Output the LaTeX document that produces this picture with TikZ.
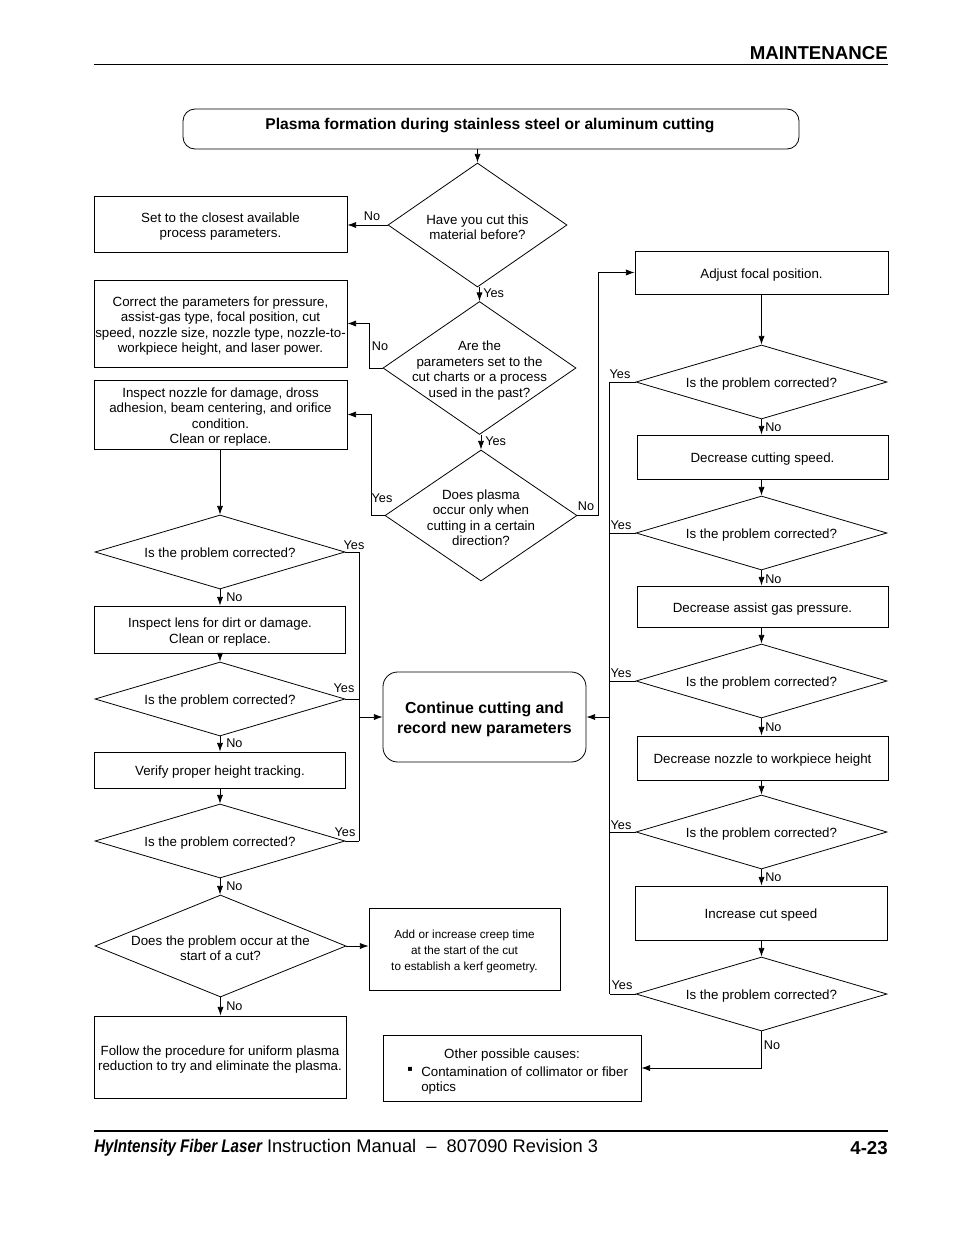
\documentclass[tikz,border=0pt]{standalone}
\usepackage{fontspec}
\setmainfont{Liberation Sans}
\newfontfamily\condfont[FakeStretch=0.83]{Liberation Sans}
\newfontfamily\symfont{DejaVu Sans}
\usetikzlibrary{shapes.geometric,arrows.meta}
\begin{document}
\begin{tikzpicture}[x=0.75pt,y=-0.75pt,
 box/.style={draw,line width=0.6pt,inner sep=0pt},
 dia/.style={draw,diamond,line width=0.6pt,inner sep=0pt},
 txt/.style={inner sep=0pt,align=center,yshift=-1.8pt,font=\fontsize{10}{11.6}\selectfont},
 lab/.style={inner sep=0pt,font=\fontsize{9.5}{11}\selectfont},
 arr/.style={line width=0.6pt,-{Latex[length=6.5pt,width=4.6pt]}},
 ln/.style={line width=0.6pt}]
\useasboundingbox (0,0) rectangle (954,1235);

% header / footer
\node[anchor=east,inner sep=0pt,font=\fontsize{14}{16}\selectfont\bfseries] (hdr) at (888,53) {MAINTENANCE};
\draw[line width=0.6pt] (94,64) -- (888,64);
\draw[line width=1.3pt] (94,1131) -- (888,1131);
\node[anchor=west,inner sep=0pt,font=\fontsize{13.7}{16}\selectfont] (foot) at (94,1148) {{\condfont\bfseries\itshape HyIntensity Fiber Laser} Instruction Manual\ \ –\ \ 807090 Revision 3};
\node[anchor=east,inner sep=0pt,font=\fontsize{14}{16}\selectfont\bfseries] (pg) at (888,1148) {4-23};

% top
\node[box,rounded corners=9pt,minimum width=462pt,minimum height=30pt] (top) at (491,129) {};
\node[inner sep=0pt,font=\fontsize{11.7}{14}\selectfont\bfseries] (toptxt) at (490,125) {Plasma formation during stainless steel or aluminum cutting};

% central decisions
\node[dia,minimum width=134.25pt,minimum height=93pt] (d1) at (477.5,225) {};
\node[txt] (t1) at (d1) {Have you cut this\\material before?};
\node[dia,minimum width=144.75pt,minimum height=99.75pt] (d2) at (479.5,368) {};
\node[txt] (t2) at (d2) {Are the\\parameters set to the\\cut charts or a process\\used in the past?};
\node[dia,minimum width=144pt,minimum height=98.25pt] (d3) at (481,515.5) {};
\node[txt] (t3) at (d3) {Does plasma\\occur only when\\cutting in a certain\\direction?};

\node[box,minimum width=189.75pt,minimum height=42pt] (b1) at (220.5,224) {};
\node[txt] (bt1) at (b1) {Set to the closest available\\process parameters.};
\node[box,minimum width=189.75pt,minimum height=65.25pt] (b2) at (220.5,323.5) {};
\node[txt] (bt2) at (b2) {Correct the parameters for pressure,\\assist-gas type, focal position, cut\\speed, nozzle size, nozzle type, nozzle-to-\\workpiece height, and laser power.};
\node[box,minimum width=189.75pt,minimum height=51.75pt] (b3) at (220.5,414.5) {};
\node[txt] (bt3) at (b3) {Inspect nozzle for damage, dross\\adhesion, beam centering, and orifice\\condition.\\Clean or replace.};

\draw[arr] (top.south -| d1.north) -- (d1.north);
\draw[arr] (d1.west) -- (d1.west -| b1.east);
\node[lab] (n1) at (372,216) {No};
\draw[arr] (d2.north |- d1.south) -- (d2.north);
\node[lab,anchor=west] (y1) at (483,293) {Yes};
\draw[arr] (d2.west) -- ++(-13,0) |- (b2.east);
\node[lab] (n2) at (380,346) {No};
\draw[arr] (d3.north |- d2.south) -- (d3.north);
\node[lab,anchor=west] (y2) at (485,441) {Yes};
\draw[arr] (d3.west) -- ++(-13,0) |- (b3.east);
\node[lab] (y3) at (382,498) {Yes};

% right column
\node[box,minimum width=189.75pt,minimum height=32.25pt] (r1) at (761.5,272.5) {};
\node[txt] (rb1) at (r1) {Adjust focal position.};
\draw[arr] (d3.east) -- ++(21,0) |- (r1.west);
\node[lab] (n3) at (586,506) {No};

\node[dia,minimum width=188.25pt,minimum height=55.5pt] (rd1) at (761.5,382) {};
\node[txt] (rt1) at (rd1) {Is the problem corrected?};
\node[box,minimum width=188.25pt,minimum height=33pt] (r2) at (762.5,457) {};
\node[txt] (rb2) at (r2) {Decrease cutting speed.};
\node[dia,minimum width=188.25pt,minimum height=55.5pt] (rd2) at (761.5,533) {};
\node[txt] (rt2) at (rd2) {Is the problem corrected?};
\node[box,minimum width=188.25pt,minimum height=30.75pt] (r3) at (762.5,606.5) {};
\node[txt] (rb3) at (r3) {Decrease assist gas pressure.};
\node[dia,minimum width=188.25pt,minimum height=55.5pt] (rd3) at (761.5,681) {};
\node[txt] (rt3) at (rd3) {Is the problem corrected?};
\node[box,minimum width=188.25pt,minimum height=33pt] (r4) at (762.5,758) {};
\node[txt] (rb4) at (r4) {Decrease nozzle to workpiece height};
\node[dia,minimum width=188.25pt,minimum height=55.5pt] (rd4) at (761.5,832) {};
\node[txt] (rt4) at (rd4) {Is the problem corrected?};
\node[box,minimum width=189pt,minimum height=40.5pt] (r5) at (761,913) {};
\node[txt] (rb5) at (r5) {Increase cut speed};
\node[dia,minimum width=188.25pt,minimum height=55.5pt] (rd5) at (761.5,994) {};
\node[txt] (rt5) at (rd5) {Is the problem corrected?};

\draw[arr] (r1.south -| rd1.north) -- (rd1.north);
\draw[arr] (rd1.south) -- (rd1.south |- r2.north);
\draw[arr] (rd2.north |- r2.south) -- (rd2.north);
\draw[arr] (rd2.south) -- (rd2.south |- r3.north);
\draw[arr] (rd3.north |- r3.south) -- (rd3.north);
\draw[arr] (rd3.south) -- (rd3.south |- r4.north);
\draw[arr] (rd4.north |- r4.south) -- (rd4.north);
\draw[arr] (rd4.south) -- (rd4.south |- r5.north);
\draw[arr] (rd5.north |- r5.south) -- (rd5.north);
\node[lab,anchor=west] (rn1) at (765,427) {No};
\node[lab,anchor=west] (rn2) at (765,579) {No};
\node[lab,anchor=west] (rn3) at (765,727) {No};
\node[lab,anchor=west] (rn4) at (765,877) {No};

\draw[ln] (rd1.west) -- ++(-26,0) coordinate (ry1);
\draw[ln] (rd2.west) -- ++(-26,0) coordinate (ry2);
\draw[ln] (rd3.west) -- ++(-26,0) coordinate (ry3);
\draw[ln] (rd4.west) -- ++(-26,0) coordinate (ry4);
\draw[ln] (rd5.west) -- ++(-26,0) coordinate (ry5);
\draw[ln] (ry1) -- (ry5);
\node[lab] (ryl1) at (620,374) {Yes};
\node[lab] (ryl2) at (621,525) {Yes};
\node[lab] (ryl3) at (621,673) {Yes};
\node[lab] (ryl4) at (621,825) {Yes};
\node[lab] (ryl5) at (622,985) {Yes};

% continue
\node[box,rounded corners=11pt,minimum width=152.25pt,minimum height=67.5pt] (cont) at (484.5,717) {};
\node[txt,font=\fontsize{11.9}{15}\selectfont\bfseries] (conttxt) at (cont) {Continue cutting and\\record new parameters};
\draw[arr] (cont.east -| ry1) -- (cont.east);

% other causes
\node[box,minimum width=193.5pt,minimum height=49.5pt] (other) at (512,1068) {};
\node[txt] (oc1) at (512,1053) {Other possible causes:};
\node[txt,anchor=west] (oc2) at (421,1069) {Contamination of collimator or fiber};
\node[txt,anchor=base west] (oc3) at (421,1089) {optics};
\node[inner sep=0pt,font=\fontsize{6}{6}\symfont] (ocb) at (410,1069) {▪};
\draw[arr] (rd5.south) |- (other.east);
\node[lab] (rn5) at (772,1045) {No};

% left column
\node[dia,minimum width=187.5pt,minimum height=55.5pt] (ld1) at (220,552) {};
\node[txt] (lt1) at (ld1) {Is the problem corrected?};
\node[box,minimum width=188.25pt,minimum height=35.25pt] (l2) at (220,629.5) {};
\node[txt] (lb2) at (l2) {Inspect lens for dirt or damage.\\Clean or replace.};
\node[dia,minimum width=187.5pt,minimum height=55.5pt] (ld2) at (220,699) {};
\node[txt] (lt2) at (ld2) {Is the problem corrected?};
\node[box,minimum width=188.25pt,minimum height=27pt] (l3) at (220,770) {};
\node[txt] (lb3) at (l3) {Verify proper height tracking.};
\node[dia,minimum width=187.5pt,minimum height=55.5pt] (ld3) at (220,841) {};
\node[txt] (lt3) at (ld3) {Is the problem corrected?};
\node[dia,minimum width=188.25pt,minimum height=76.5pt] (ld4) at (220.5,946) {};
\node[txt] (lt4) at (ld4) {Does the problem occur at the\\start of a cut?};
\node[box,minimum width=143.25pt,minimum height=61.5pt] (creep) at (464.5,949) {};
\node[txt,font=\fontsize{8.8}{12}\selectfont] (creeptxt) at (creep) {Add or increase creep time\\at the start of the cut\\to establish a kerf geometry.};
\node[box,minimum width=189pt,minimum height=61.5pt] (l5) at (220,1057) {};
\node[txt] (lb5) at (l5) {Follow the procedure for uniform plasma\\reduction to try and eliminate the plasma.};

\draw[arr] (ld1.north |- b3.south) -- (ld1.north);
\draw[arr] (ld1.south) -- (ld1.south |- l2.north);
\draw[arr] (ld2.north |- l2.south) -- (ld2.north);
\draw[arr] (ld2.south) -- (ld2.south |- l3.north);
\draw[arr] (ld3.north |- l3.south) -- (ld3.north);
\draw[arr] (ld3.south) -- (ld3.south |- ld4.north);
\draw[arr] (ld4.south) -- (ld4.south |- l5.north);
\draw[arr] (ld4.east) -- (ld4.east -| creep.west);
\node[lab,anchor=west] (ln1) at (226,597) {No};
\node[lab,anchor=west] (ln2) at (226,743) {No};
\node[lab,anchor=west] (ln3) at (226,886) {No};
\node[lab,anchor=west] (ln4) at (226,1006) {No};

\draw[ln] (ld1.east) -- ++(14,0) coordinate (ly1);
\draw[ln] (ld2.east) -- ++(14,0) coordinate (ly2);
\draw[ln] (ld3.east) -- ++(14,0) coordinate (ly3);
\draw[ln] (ly1) -- (ly3);
\draw[arr] (cont.west -| ly1) -- (cont.west);
\node[lab] (lyl1) at (354,545) {Yes};
\node[lab] (lyl2) at (344,688) {Yes};
\node[lab] (lyl3) at (345,832) {Yes};
\end{tikzpicture}
\end{document}
